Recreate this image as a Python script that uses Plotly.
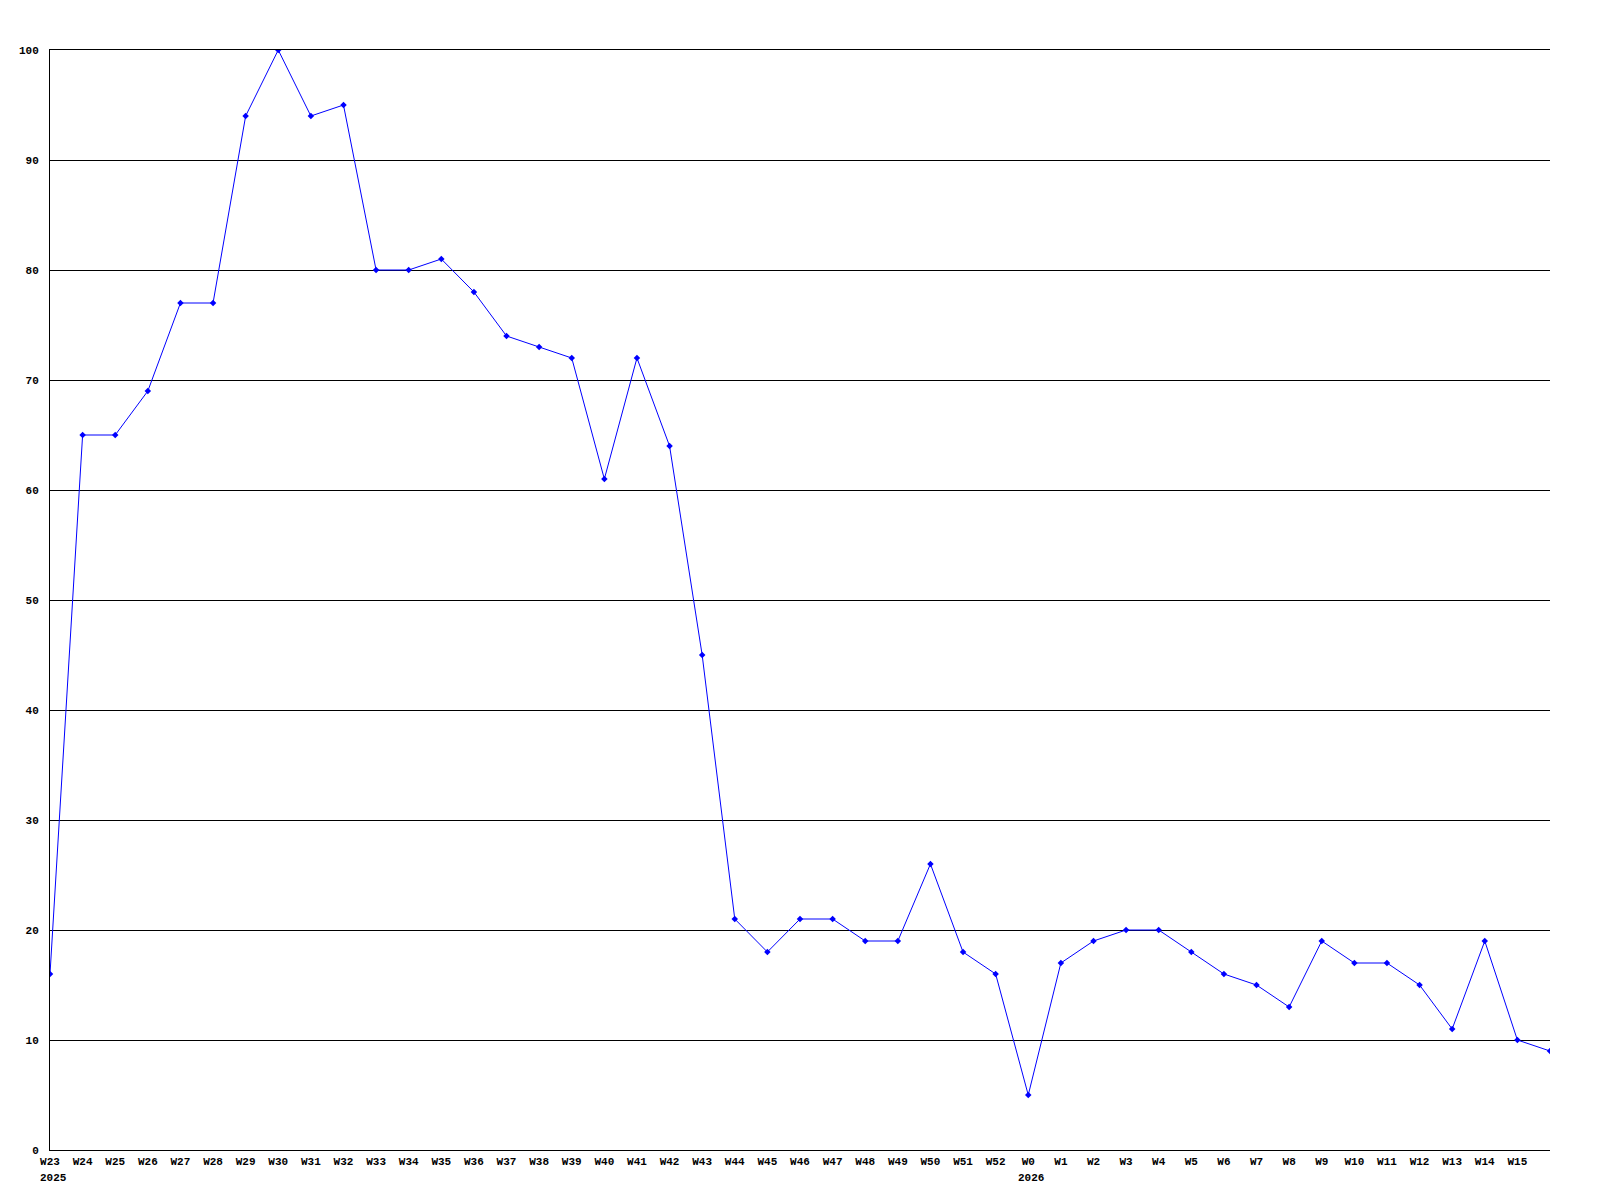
import plotly.graph_objects as go

weeks = ["W23", "W24", "W25", "W26", "W27", "W28", "W29", "W30", "W31", "W32",
         "W33", "W34", "W35", "W36", "W37", "W38", "W39", "W40", "W41", "W42",
         "W43", "W44", "W45", "W46", "W47", "W48", "W49", "W50", "W51", "W52",
         "W0", "W1", "W2", "W3", "W4", "W5", "W6", "W7", "W8", "W9",
         "W10", "W11", "W12", "W13", "W14", "W15", "W16"]
years = {"W23": "2025", "W0": "2026"}
values = [16, 65, 65, 69, 77, 77, 94, 100, 94, 95,
          80, 80, 81, 78, 74, 73, 72, 61, 72, 64,
          45, 21, 18, 21, 21, 19, 19, 26, 18, 16,
          5, 17, 19, 20, 20, 18, 16, 15, 13, 19,
          17, 17, 15, 11, 19, 10, 9]

x = list(range(len(weeks)))
# the last week sits on the right edge and has no label
tick_vals = x[:-1]
tick_text = weeks[:-1]

fig = go.Figure()
fig.add_trace(go.Scatter(
    x=x, y=values,
    mode="lines+markers",
    line=dict(color="#0000ff", width=1),
    marker=dict(symbol="diamond", size=5, color="#0000ff"),
    hoverinfo="skip",
))

# year under the first week of each year, left-aligned with the week label
for w, yr in years.items():
    fig.add_annotation(
        x=weeks.index(w), xref="x", y=0, yref="paper",
        text=f"<b>{yr}</b>", showarrow=False,
        xanchor="left", yanchor="top", xshift=-12, yshift=-20,
        font=dict(family="Liberation Mono", size=11, color="black"),
    )

fig.update_layout(
    width=1600, height=1200,
    margin=dict(l=42, r=58, t=42, b=58),
    paper_bgcolor="white", plot_bgcolor="white",
    showlegend=False,
    font=dict(family="Liberation Mono", size=11, color="black"),
)
fig.update_xaxes(
    range=[0, len(weeks) - 1],
    tickmode="array", tickvals=tick_vals, ticktext=tick_text,
    showgrid=False, zeroline=False,
    showline=True, mirror=True, linecolor="black", linewidth=1,
    tickfont=dict(family="Liberation Mono", size=11, color="black", weight="bold"),
    ticks="", ticklabelstandoff=1,
)
fig.update_yaxes(
    range=[0, 100], dtick=10,
    showgrid=True, gridcolor="black", gridwidth=1,
    zeroline=True, zerolinecolor="black", zerolinewidth=1,
    showline=True, linecolor="black", linewidth=1,
    tickfont=dict(family="Liberation Mono", size=11, color="black", weight="bold"),
    ticks="", ticklabelstandoff=8,
)

fig.write_html("out.html")
